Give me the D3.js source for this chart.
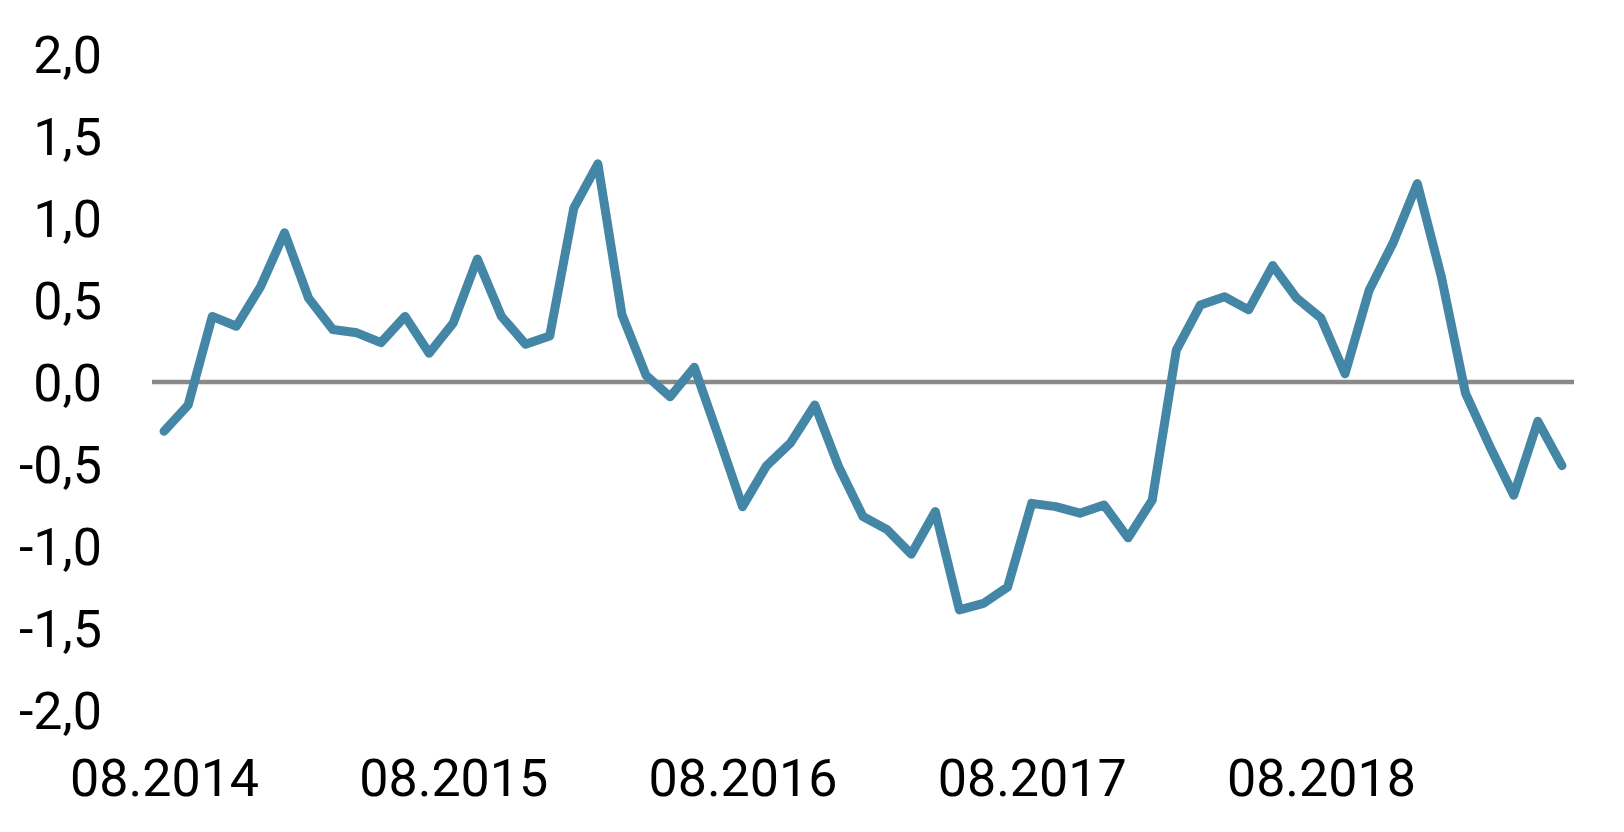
<!DOCTYPE html>
<html>
<head>
<meta charset="utf-8">
<script src="https://cdn.jsdelivr.net/npm/d3@7"></script>
<style>
  html, body { margin: 0; padding: 0; background: #fff; }
  svg { display: block; }
  text { font-family: Roboto, "Noto Sans", sans-serif; }
</style>
</head>
<body>
<svg id="chart" width="1624" height="832"></svg>
<script>
// Monthly categories 08.2014 .. 06.2019
const fmt = d3.timeFormat("%m.%Y");
const categories = d3.timeMonths(new Date(2014, 7, 1), new Date(2019, 6, 1)).map(fmt);

const values = [
  -0.30, -0.14, 0.40, 0.34, 0.58, 0.91, 0.51, 0.32, 0.30, 0.24,
   0.40, 0.175, 0.36, 0.75, 0.40, 0.23, 0.28, 1.06, 1.33, 0.41,
   0.04, -0.09, 0.09, -0.33, -0.76, -0.51, -0.37, -0.14, -0.52, -0.82,
  -0.90, -1.05, -0.79, -1.39, -1.35, -1.25, -0.74, -0.76, -0.80, -0.75,
  -0.95, -0.72, 0.195, 0.47, 0.52, 0.44, 0.71, 0.51, 0.39, 0.05,
   0.56, 0.85, 1.21, 0.64, -0.07, -0.39, -0.69, -0.24, -0.51
];

const xTickLabels = ["08.2014", "08.2015", "08.2016", "08.2017", "08.2018"];
const yTicks = [-2.0, -1.5, -1.0, -0.5, 0.0, 0.5, 1.0, 1.5, 2.0];

const svg = d3.select("#chart");

const x = d3.scalePoint()
  .domain(categories)
  .range([152, 1574])
  .padding(0.5);

const y = d3.scaleLinear()
  .domain([-2, 2])
  .range([710, 54]);

const commaFmt = v => d3.format(".1f")(v).replace(".", ",").replace("−", "-");

// Y axis labels
const yAxis = d3.axisLeft(y)
  .tickValues(yTicks)
  .tickSize(0)
  .tickPadding(0)
  .tickFormat(commaFmt);

svg.append("g")
  .attr("transform", "translate(102,0)")
  .call(yAxis)
  .call(g => g.select(".domain").remove())
  .call(g => g.selectAll("text")
    .attr("font-family", "Roboto")
    .attr("font-size", 52)
    .attr("fill", "#000")
    .attr("dy", "0.36em"));

// X axis labels
const xAxis = d3.axisBottom(x)
  .tickValues(xTickLabels)
  .tickSize(0)
  .tickPadding(0);

svg.append("g")
  .attr("transform", "translate(0,759)")
  .call(xAxis)
  .call(g => g.select(".domain").remove())
  .call(g => g.selectAll("text")
    .attr("font-family", "Roboto")
    .attr("font-size", 52)
    .attr("fill", "#000")
    .attr("dy", "0.71em"));

// Zero line
svg.append("line")
  .attr("x1", x.range()[0])
  .attr("x2", x.range()[1])
  .attr("y1", y(0))
  .attr("y2", y(0))
  .attr("stroke", "#898989")
  .attr("stroke-width", 4.5);

// Series line
const line = d3.line()
  .x((d, i) => x(categories[i]))
  .y(d => y(d));

svg.append("path")
  .datum(values)
  .attr("d", line)
  .attr("fill", "none")
  .attr("stroke", "#4386A6")
  .attr("stroke-width", 9)
  .attr("stroke-linejoin", "round")
  .attr("stroke-linecap", "round");
</script>
</body>
</html>
